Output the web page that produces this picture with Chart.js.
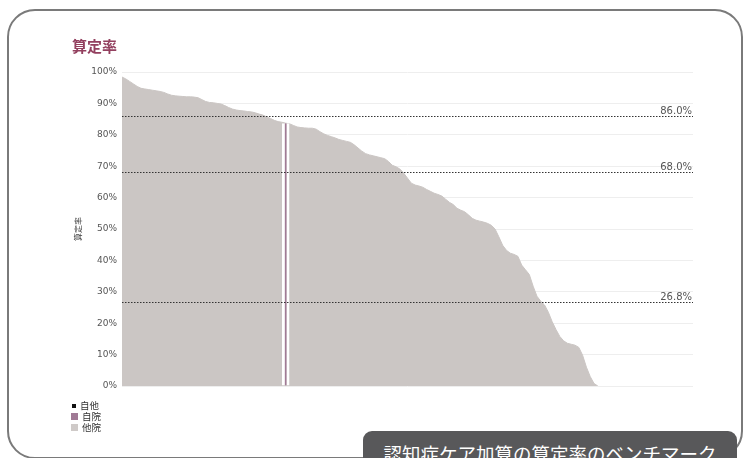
<!DOCTYPE html>
<html lang="ja">
<head>
    <meta charset="UTF-8">
    <title>算定率</title>
    <style>
        body {
            margin: 0;
            width: 745px;
            height: 458px;
            overflow: hidden;
            background: #fff;
            font-family: "Noto Sans CJK JP", "DejaVu Sans", sans-serif;
        }
        .card {
            position: absolute;
            left: 7px;
            top: 9px;
            width: 732px;
            height: 446px;
            border: 2px solid #7a7a7a;
            border-radius: 28px;
        }
        .chart-title {
            position: absolute;
            left: 72px;
            top: 38px;
            font-size: 15px;
            font-weight: bold;
            color: #93405f;
            line-height: 1;
        }
        #chart {
            position: absolute;
            left: 0;
            top: 0;
        }
        .legend {
            position: absolute;
            left: 71px;
            top: 400px;
            font-size: 9.5px;
            color: #333;
            line-height: 11px;
        }
        .legend div { display: flex; align-items: center; }
        .legend span.sw { display: inline-block; width: 7px; height: 7px; margin-right: 4px; }
        .tab {
            position: absolute;
            left: 363px;
            top: 431px;
            width: 374px;
            height: 40px;
            background: #58585a;
            border-radius: 9px 9px 0 0;
            color: #fff;
            font-size: 18.5px;
            line-height: 1;
            text-align: center;
            padding-top: 13px;
            box-sizing: border-box;
        }
    </style>
</head>
<body>
    <div class="card"></div>
    <canvas id="chart" width="745" height="458"></canvas>
    <div class="chart-title">算定率</div>
    <div class="legend">
        <div><span class="sw" style="width:4px;height:4px;background:#111;margin-left:1px;margin-right:4px"></span>自他</div>
        <div><span class="sw" style="background:#a07a95"></span>自院</div>
        <div><span class="sw" style="background:#cfcac8"></span>他院</div>
    </div>
    <div class="tab">認知症ケア加算の算定率のベンチマーク</div>

    <script src="https://cdn.jsdelivr.net/npm/chart.js"></script>
    <script>
        // hospitals sorted by rate (%)
        const otherRates = [
            98.4, 97.8, 97.0, 96.2, 95.4, 94.8, 94.6, 94.4, 94.2, 94.0,
            93.8, 93.5, 93.0, 92.6, 92.4, 92.3, 92.2, 92.1, 92.1, 92.0,
            91.8, 91.2, 90.6, 90.3, 90.2, 90.0, 89.8, 89.3, 88.7, 88.2,
            87.9, 87.7, 87.6, 87.4, 87.3, 87.0, 86.6, 86.3, 85.7, 85.2,
            84.6, 84.2, 84.0, 83.7, 83.5, 83.0, 82.5, 82.3, 82.2, 82.1,
            82.1, 81.8, 81.0, 80.3, 79.8, 79.4, 79.0, 78.5, 78.2, 77.9,
            77.6, 76.8, 75.8, 74.8, 74.0, 73.6, 73.3, 73.0, 72.7, 72.4,
            71.5, 70.3, 69.8, 69.1, 67.8, 66.2, 64.6, 64.0, 63.7, 63.3,
            62.6, 62.0, 61.4, 61.0, 60.5, 59.5, 58.5, 57.8, 56.6, 56.0,
            55.5, 54.5, 53.4, 52.8, 52.5, 52.2, 51.8, 51.2, 50.0, 47.5,
            44.8, 43.2, 42.3, 41.9, 41.3, 38.5, 37.0, 35.5, 31.8, 28.6,
            27.0, 25.8, 23.5, 20.5, 18.0, 15.8, 14.4, 13.6, 13.3, 13.0,
            12.3, 9.8, 6.0, 3.0, 0.8, 0
        ];
        const hospitalCount = 151;
        const ownIndex = 43;
        const ownRate = 83.7;
        const refLines = [86.0, 68.0, 26.8];
        const yTicks = [0, 10, 20, 30, 40, 50, 60, 70, 80, 90, 100];

        const labels = [];
        for (let i = 0; i < hospitalCount; i++) labels.push(String(i + 1));
        const ownData = labels.map((_, i) => i === ownIndex ? ownRate : null);

        const refLinePlugin = {
            id: 'refLines',
            afterDatasetsDraw(chart) {
                const { ctx, chartArea, scales } = chart;
                ctx.save();
                refLines.forEach(v => {
                    const y = Math.round(scales.y.getPixelForValue(v)) + 0.5;
                    ctx.strokeStyle = '#333';
                    ctx.lineWidth = 1;
                    ctx.setLineDash([1.5, 1.5]);
                    ctx.beginPath();
                    ctx.moveTo(chartArea.left, y);
                    ctx.lineTo(chartArea.right, y);
                    ctx.stroke();
                    ctx.setLineDash([]);
                    ctx.fillStyle = '#555';
                    ctx.font = '10px "DejaVu Sans"';
                    ctx.textAlign = 'right';
                    ctx.textBaseline = 'alphabetic';
                    ctx.fillText(v.toFixed(1) + '%', chartArea.right - 1, y - 3);
                });
                ctx.restore();
            }
        };

        new Chart(document.getElementById('chart'), {
            type: 'line',
            data: {
                labels: labels,
                datasets: [
                    {
                        type: 'bar',
                        label: '自院',
                        data: ownData,
                        backgroundColor: '#a07a95',
                        borderColor: '#ffffff',
                        borderWidth: { left: 3, right: 3, top: 0, bottom: 0 },
                        borderSkipped: false,
                        grouped: false,
                        barPercentage: 2,
                        categoryPercentage: 1,
                        order: 0
                    },
                    {
                        label: '他院',
                        data: otherRates,
                        backgroundColor: '#cbc6c4',
                        borderColor: '#cbc6c4',
                        borderWidth: 1,
                        pointRadius: 0,
                        tension: 0,
                        fill: 'origin',
                        order: 1
                    }
                ]
            },
            options: {
                responsive: false,
                animation: false,
                layout: { padding: { left: 62, right: 52, top: 72, bottom: 72 } },
                plugins: {
                    legend: { display: false },
                    tooltip: { enabled: false }
                },
                scales: {
                    x: {
                        display: false,
                        offset: false
                    },
                    y: {
                        min: 0,
                        max: 100,
                        afterFit(scale) { scale.width = 60; },
                        afterBuildTicks(scale) { scale.ticks = yTicks.map(v => ({ value: v })); },
                        border: { display: false },
                        grid: { color: '#eeeeee', drawTicks: false },
                        ticks: {
                            padding: 5,
                            color: '#555',
                            font: { family: 'DejaVu Sans', size: 9 },
                            callback: v => v + '%'
                        },
                        title: {
                            display: true,
                            text: '算定率',
                            color: '#444',
                            padding: { top: 11, bottom: 0 },
                            font: { family: 'Noto Sans CJK JP', size: 8 }
                        }
                    }
                }
            },
            plugins: [refLinePlugin]
        });
    </script>
</body>
</html>
